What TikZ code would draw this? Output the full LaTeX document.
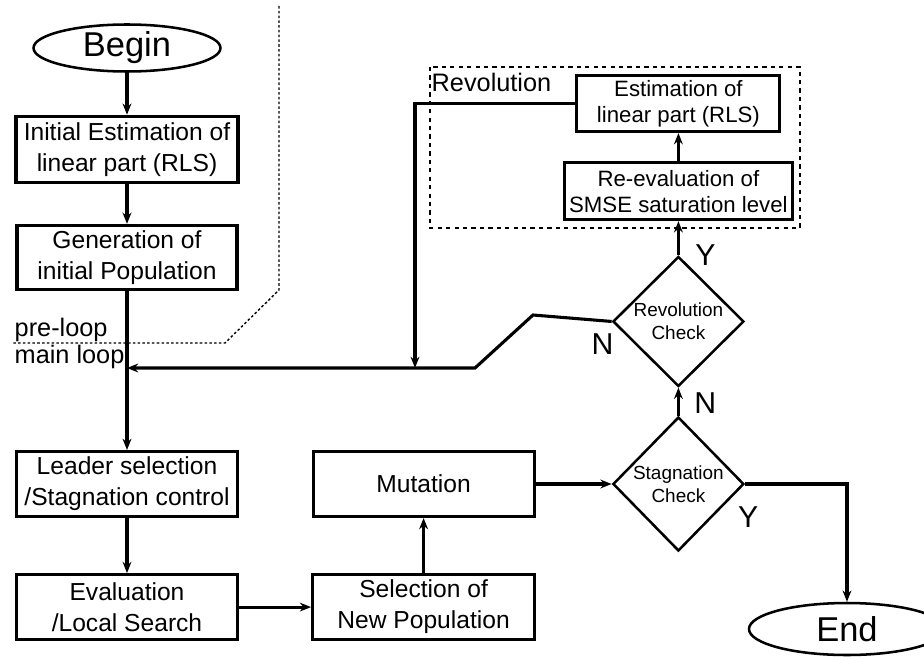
\documentclass[tikz,border=0pt]{standalone}
\usepackage{fontspec}
\setmainfont{Liberation Sans}
\usetikzlibrary{arrows.meta}
\usetikzlibrary{shapes.geometric, positioning}
\tikzset{
    box/.style={
        rectangle,
        draw=black,
        line width=2.2pt,
        minimum width=5.525cm,
        minimum height=1.625cm,
        inner sep=1pt,
        align=center,
        font=\fontsize{17.5}{22}\selectfont
    },
    revobox/.style={
        box,
        font=\fontsize{15.8}{18.5}\selectfont
    },
    decision/.style={
        diamond,
        draw=black,
        line width=1.8pt,
        minimum width=3.275cm,
        minimum height=3.3cm,
        inner sep=0pt,
        align=center,
        font=\fontsize{13.5}{16.5}\selectfont
    },
    terminal/.style={
        ellipse,
        draw=black,
        line width=1.8pt,
        inner sep=0pt,
        font=\fontsize{24.5}{28}\selectfont
    },
    arrow/.style={
        -{Stealth[length=2.8mm,width=2.2mm]},
        line width=2.2pt,
        draw=black
    },
    branch/.style={inner sep=0pt, font=\fontsize{21.5}{24}\selectfont},
    note/.style={inner sep=1pt, font=\fontsize{18}{21}\selectfont}
}

\begin{document}
\begin{tikzpicture}
        \useasboundingbox (0,0) rectangle (23.1,-16.4);

        % Pre-loop
        \node (begin) [terminal, minimum width=4.675cm, minimum height=1.175cm] at (3.175,-1.2) {Begin};
        \node (init) [box, minimum width=5.55cm, minimum height=1.65cm, below=1.05cm of begin] {Initial Estimation of\\linear part (RLS)};
        \node (gen) [box, minimum width=5.5cm, minimum height=1.6cm, below=1.0cm of init] {Generation of\\initial Population};

        % Main loop
        \node (leader) [box, below=3.975cm of gen] {Leader selection\\/Stagnation control};
        \node (eval) [box, below=1.375cm of leader] {Evaluation\\/Local Search};
        \node (select) [box, minimum width=5.55cm, right=1.8cm of eval] {Selection of\\New Population};
        \node (mutation) [box, above=1.375cm of select] {Mutation};

        % Checks
        \node (stag) [decision, minimum height=3.35cm, right=1.9cm of mutation] {Stagnation\\Check};
        \node (revo) [decision, minimum height=3.25cm, above=0.7cm of stag] {Revolution\\Check};
        \node (stagN) [branch, above right=0.05cm and 0.39cm of stag.north] {N};
        \node (stagY) [branch, below=0.55cm of stag.east, xshift=0.075cm] {Y};
        \node (revoY) [branch, right=0.42cm of revo.north] {Y};
        \node (revoN) [branch, below left=0.3cm and -0.05cm of revo.west] {N};

        % Revolution
        \node (reeval) [revobox, minimum width=5.7cm, minimum height=1.425cm, above=0.85cm of revo] {Re-evaluation of\\SMSE saturation level};
        \node (estim) [revobox, minimum width=5.075cm, minimum height=1.4cm, above=0.7cm of reeval] {Estimation of\\linear part (RLS)};
        \coordinate (revoNW) at (10.75,-1.675);
        \coordinate (revoSE) at (20,-5.7);
        \draw[dashed, line width=0.8pt] (revoNW) rectangle (revoSE);
        \node (revoText) [note, anchor=north west, yshift=-0.1cm] at (revoNW) {Revolution};

        % End
        \node (end) [terminal, minimum width=4.9cm, minimum height=1.3cm] at (21.175,-15.725) {End};

        % Pre-loop / main loop border
        \coordinate (splitTop) at (6.975,-0.15);
        \coordinate (splitBend) at (6.975,-7.25);
        \coordinate (splitFoot) at (5.625,-8.575);
        \coordinate (splitEnd) at (0.325,-8.575);
        \draw[line width=1pt, dash pattern=on 1.8pt off 1.6pt] (splitTop) -- (splitBend) -- (splitFoot) -- (splitEnd);
        \node (preText) [note, anchor=south west] at (splitEnd) {pre-loop};
        \node (mainText) [note, anchor=north west] at (splitEnd) {main loop};

        % Return points
        \coordinate (mainJoin) at (3.175,-9.2);
        \coordinate (revoDrop) at (10.375,-9.2);
        \coordinate (nBend) at (13.325,-7.875);
        \coordinate (nFoot) at (11.875,-9.2);

        % Arrows
        \draw[arrow] (begin) -- (init);
        \draw[arrow] (init) -- (gen);
        \draw[arrow] (gen) -- (leader);
        \draw[arrow] (leader) -- (eval);
        \draw[arrow] (eval) -- (select);
        \draw[arrow] (select) -- (mutation);
        \draw[arrow] (mutation) -- (stag);
        \draw[arrow] (stag) -- (revo);
        \draw[arrow] (revo) -- (reeval);
        \draw[arrow] (reeval) -- (estim);
        \draw[arrow] (revo.west) -- (nBend) -- (nFoot) -- (mainJoin);
        \draw[arrow] (estim.west) -| (revoDrop);
        \draw[arrow] (stag.east) -| (end.north);
\end{tikzpicture}
\end{document}
